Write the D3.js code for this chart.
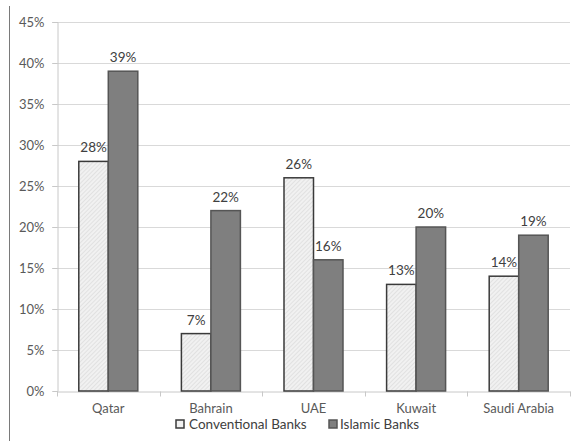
<!DOCTYPE html>
<html>
<head>
<meta charset="utf-8">
<script src="https://cdn.jsdelivr.net/npm/d3@7"></script>
<style>
  html, body { margin: 0; padding: 0; background: #fff; }
  text { font-family: Lato, "Open Sans", sans-serif; }
</style>
</head>
<body>
<svg id="chart" width="573" height="441"></svg>
<script>
// Share of banks by country, conventional vs Islamic
const countries = ["Qatar", "Bahrain", "UAE", "Kuwait", "Saudi Arabia"];
const conventional = [28, 7, 26, 13, 14];
const islamic = [39, 22, 16, 20, 19];
const seriesNames = ["Conventional Banks", "Islamic Banks"];
const yTicks = [0, 5, 10, 15, 20, 25, 30, 35, 40, 45];

const svg = d3.select("#chart");
const margin = { left: 57, right: 3, top: 22, bottom: 50 };
const W = 573, H = 441;

const x = d3.scaleBand().domain(countries).range([margin.left, W - margin.right]);
const y = d3.scaleLinear().domain([0, 45]).range([H - margin.bottom, margin.top]);

// hatched fill for the conventional series
const defs = svg.append("defs");
const pat = defs.append("pattern")
  .attr("id", "hatch").attr("patternUnits", "userSpaceOnUse")
  .attr("width", 3).attr("height", 3)
  .attr("patternTransform", "rotate(45)");
pat.append("rect").attr("width", 3).attr("height", 3).attr("fill", "#f1f1f1");
pat.append("line").attr("x1", 0).attr("y1", 0).attr("x2", 0).attr("y2", 3)
  .attr("stroke", "#d2d2d2").attr("stroke-width", 1);

// outer left rule
svg.append("line").attr("x1", 9.5).attr("x2", 9.5).attr("y1", 6).attr("y2", H)
  .attr("stroke", "#7a7a7a").attr("stroke-width", 1);

// gridlines
svg.append("g").selectAll("line").data(yTicks.filter(d => d > 0)).join("line")
  .attr("x1", margin.left - 5).attr("x2", W - margin.right)
  .attr("y1", d => Math.round(y(d)) + 0.5).attr("y2", d => Math.round(y(d)) + 0.5)
  .attr("stroke", "#d9d9d9").attr("stroke-width", 1);

// y axis
const yAxis = svg.append("g")
  .attr("transform", `translate(${margin.left + 0.5},0)`)
  .call(d3.axisLeft(y).tickValues(yTicks).tickFormat(d => d + "%").tickSize(5).tickPadding(8));
yAxis.select(".domain").attr("stroke", "#c8c8c8");
yAxis.selectAll(".tick line").attr("stroke", "#c8c8c8");
yAxis.selectAll(".tick text").attr("fill", "#595959").style("font-size", "13px")
  .style("font-family", "Lato, 'Open Sans', sans-serif");

// x axis
const xAxis = svg.append("g")
  .attr("transform", `translate(0,${Math.round(y(0)) + 0.5})`)
  .call(d3.axisBottom(x).tickSize(0).tickPadding(12));
xAxis.select(".domain").attr("stroke", "#c8c8c8");
xAxis.selectAll(".tick text").attr("fill", "#595959").style("font-size", "13px")
  .style("font-family", "Lato, 'Open Sans', sans-serif");
// category separators
const edges = countries.map(c => x(c)).concat([x.range()[1]]);
xAxis.append("g").selectAll("line").data(edges).join("line")
  .attr("x1", d => Math.round(d) + 0.5).attr("x2", d => Math.round(d) + 0.5)
  .attr("y1", 0).attr("y2", 5).attr("stroke", "#c8c8c8");

// bars
const bw = 29.5;
const rows = countries.map((c, i) => ({ c, v: [conventional[i], islamic[i]] }));
const fills = ["url(#hatch)", "#7f7f7f"];
const strokes = ["#3a3a3a", "#555555"];

const groups = svg.append("g").selectAll("g").data(rows).join("g");
groups.each(function(d) {
  const g = d3.select(this);
  const cx = x(d.c) + x.bandwidth() / 2;
  d.v.forEach((v, k) => {
    const x0 = cx - bw + k * bw;
    g.append("rect")
      .attr("x", x0).attr("width", bw)
      .attr("y", y(v)).attr("height", y(0) - y(v))
      .attr("fill", fills[k]).attr("stroke", strokes[k]).attr("stroke-width", 1.5);
    g.append("text")
      .attr("x", x0 + bw / 2).attr("y", y(v) - 9)
      .attr("text-anchor", "middle")
      .attr("fill", "#404040").style("font-size", "13.5px")
      .text(v + "%");
  });
});

// legend
const legend = svg.append("g");
const legendPos = [{ sx: 176, tx: 189 }, { sx: 329, tx: 340 }];
seriesNames.forEach((name, k) => {
  legend.append("rect")
    .attr("x", legendPos[k].sx).attr("y", 420).attr("width", 8).attr("height", 8)
    .attr("fill", k === 0 ? "#f1f1f1" : "#7f7f7f")
    .attr("stroke", strokes[k]).attr("stroke-width", 1.5);
  legend.append("text")
    .attr("x", legendPos[k].tx).attr("y", 429)
    .attr("fill", "#404040").style("font-size", "13.5px")
    .text(name);
});
</script>
</body>
</html>
